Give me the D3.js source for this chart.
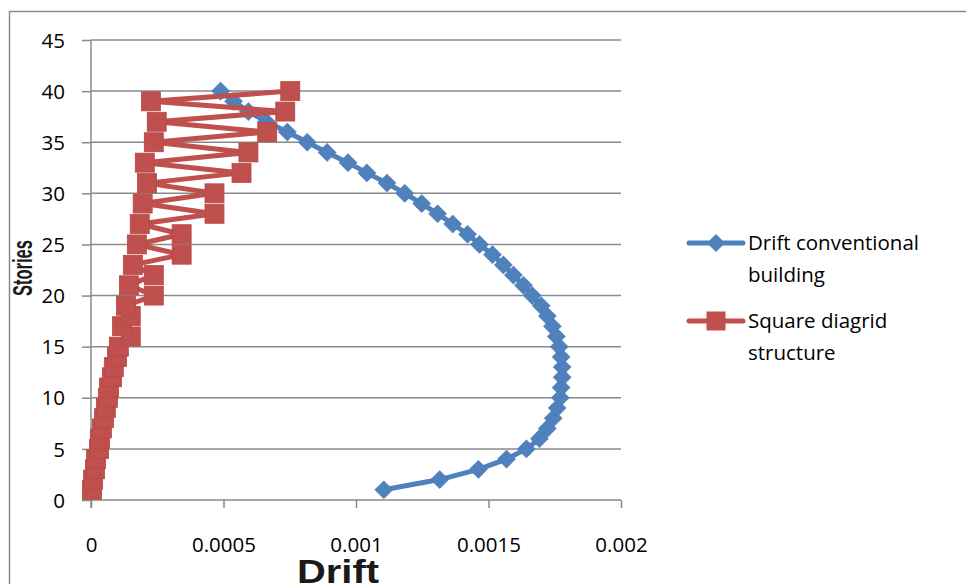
<!DOCTYPE html>
<html>
<head>
<meta charset="utf-8">
<script src="https://cdn.jsdelivr.net/npm/d3@7"></script>
<style>
  html, body { margin: 0; padding: 0; background: #fff; }
  svg { display: block; }
</style>
</head>
<body>
<svg id="chart" width="966" height="584"></svg>
<script>
// ---- data ----
const stories = d3.range(1, 41);
const conventionalDrift = [
  0.001105, 0.001316, 0.001462, 0.001568, 0.001643, 0.001692, 0.001722, 0.001744, 0.001759, 0.001771,
  0.001774, 0.001778, 0.001778, 0.001774, 0.001767, 0.001756, 0.001741, 0.001722, 0.001699, 0.001665,
  0.001632, 0.001594, 0.001556, 0.001515, 0.001466, 0.001421, 0.001365, 0.001308, 0.001248, 0.001184,
  0.001117, 0.001041, 0.000970, 0.000891, 0.000816, 0.000741, 0.000662, 0.000594, 0.000538, 0.000489
];
const diagridDrift = [
  0.000004, 0.000008, 0.000015, 0.000019, 0.000030, 0.000034, 0.000041, 0.000049, 0.000056, 0.000064,
  0.000068, 0.000079, 0.000086, 0.000098, 0.000105, 0.000150, 0.000117, 0.000150, 0.000132, 0.000237,
  0.000143, 0.000237, 0.000158, 0.000342, 0.000173, 0.000342, 0.000184, 0.000466, 0.000195, 0.000466,
  0.000211, 0.000568, 0.000203, 0.000594, 0.000237, 0.000665, 0.000248, 0.000733, 0.000226, 0.000752
];
const xTicks = [0, 0.0005, 0.001, 0.0015, 0.002];
const xTickLabels = ["0", "0.0005", "0.001", "0.0015", "0.002"];
const yTicks = [0, 5, 10, 15, 20, 25, 30, 35, 40, 45];
const seriesNames = ["Drift conventional building", "Square diagrid structure"];
const xTitle = "Drift";
const yTitle = "Stories";

// ---- layout ----
const svg = d3.select("#chart");
const FONT = "'Open Sans', sans-serif";
const blue = "#4F81BD", red = "#C0504D", grid = "#8a8a8a";

const x = d3.scaleLinear().domain([0, 0.002]).range([91, 621]);
const y = d3.scaleLinear().domain([0, 45]).range([500, 40]);

// outer chart border
svg.append("rect").attr("x", 9.5).attr("y", 11.5).attr("width", 1000).attr("height", 620)
  .attr("fill", "none").attr("stroke", grid).attr("stroke-width", 1.5);

// gridlines
svg.append("g").selectAll("line").data(yTicks.filter(d => d > 0)).join("line")
  .attr("x1", x(0)).attr("x2", x(0.002))
  .attr("y1", d => y(d)).attr("y2", d => y(d))
  .attr("stroke", grid).attr("stroke-width", 1.5);

// y axis
const yAxis = d3.axisLeft(y).tickValues(yTicks).tickSize(9).tickPadding(10).tickFormat(d3.format("d"));
const gy = svg.append("g").attr("transform", `translate(${x(0)},0)`).call(yAxis);
gy.select(".domain").attr("stroke", grid).attr("stroke-width", 1.5).attr("d", `M-0,${y(45)}V${y(0) + 8}`);
gy.selectAll(".tick line").attr("stroke", grid).attr("stroke-width", 1.5);
gy.selectAll(".tick text").attr("font-family", FONT).attr("font-size", 20.5).attr("fill", "#000")
  .attr("x", -26).attr("dy", "0.35em");

// x axis
const xAxis = d3.axisBottom(x).tickValues(xTicks).tickSize(8).tickPadding(0)
  .tickFormat((d, i) => xTickLabels[i]);
const gx = svg.append("g").attr("transform", `translate(0,${y(0)})`).call(xAxis);
gx.select(".domain").attr("stroke", grid).attr("stroke-width", 1.5).attr("d", `M${x(0) - 9},0H${x(0.002)}`);
gx.selectAll(".tick line").attr("stroke", grid).attr("stroke-width", 1.5);
gx.selectAll(".tick text").attr("font-family", FONT).attr("font-size", 20.5).attr("fill", "#000")
  .attr("y", 52).attr("dy", 0);

// series
const line = d3.line().x(d => x(d[0])).y(d => y(d[1]));
const blueData = stories.map((s, i) => [conventionalDrift[i], s]);
const redData = stories.map((s, i) => [diagridDrift[i], s]);

svg.append("path").datum(blueData).attr("d", line).attr("fill", "none")
  .attr("stroke", blue).attr("stroke-width", 5).attr("stroke-linejoin", "round");
const diamond = d3.symbol().type(d3.symbolDiamond2).size(210);
svg.append("g").selectAll("path").data(blueData).join("path")
  .attr("d", diamond)
  .attr("transform", d => `translate(${x(d[0])},${y(d[1])})`)
  .attr("fill", blue).attr("stroke", "#4a7ab3").attr("stroke-width", 0.5);

svg.append("path").datum(redData).attr("d", line).attr("fill", "none")
  .attr("stroke", red).attr("stroke-width", 5).attr("stroke-linejoin", "miter");
svg.append("g").selectAll("rect").data(redData).join("rect")
  .attr("x", d => x(d[0]) - 9.5).attr("y", d => y(d[1]) - 9.5)
  .attr("width", 19).attr("height", 19)
  .attr("fill", red).attr("stroke", "#b84744").attr("stroke-width", 0.8);

// legend
const leg = svg.append("g");
const legItems = [
  { name: ["Drift conventional", "building"], color: blue, y: 243, shape: "diamond" },
  { name: ["Square diagrid", "structure"], color: red, y: 321, shape: "square" }
];
legItems.forEach(it => {
  leg.append("line").attr("x1", 689).attr("x2", 743).attr("y1", it.y).attr("y2", it.y)
    .attr("stroke", it.color).attr("stroke-width", 5).attr("stroke-linecap", "round");
  if (it.shape === "diamond") {
    leg.append("path").attr("d", d3.symbol().type(d3.symbolDiamond2).size(210)())
      .attr("transform", `translate(716,${it.y})`).attr("fill", it.color);
  } else {
    leg.append("rect").attr("x", 706.5).attr("y", it.y - 9.5).attr("width", 19).attr("height", 19)
      .attr("fill", it.color);
  }
  const t = leg.append("text").attr("font-family", FONT).attr("font-size", 20.5).attr("fill", "#000");
  it.name.forEach((ln, k) => {
    t.append("tspan").attr("x", 748).attr("y", it.y + 7 + k * 32).text(ln);
  });
});

// axis titles
svg.append("text").attr("x", 338).attr("y", 583).attr("text-anchor", "middle")
  .attr("font-family", "'Liberation Sans', Arial, sans-serif").attr("font-weight", "bold")
  .attr("font-size", 34).attr("textLength", 82).attr("lengthAdjust", "spacingAndGlyphs")
  .attr("fill", "#1a1a1a").text(xTitle);

svg.append("text").attr("transform", "translate(32,268) rotate(-90)").attr("text-anchor", "middle")
  .attr("font-family", "'Liberation Sans', Arial, sans-serif").attr("font-weight", "bold")
  .attr("font-size", 28).attr("textLength", 56).attr("lengthAdjust", "spacingAndGlyphs")
  .attr("fill", "#1a1a1a").text(yTitle);
</script>
</body>
</html>
